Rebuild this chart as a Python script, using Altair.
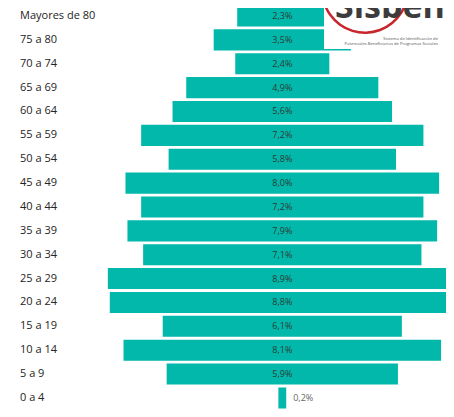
import altair as alt
import pandas as pd

grupos = ["Mayores de 80", "75 a 80", "70 a 74", "65 a 69", "60 a 64", "55 a 59",
          "50 a 54", "45 a 49", "40 a 44", "35 a 39", "30 a 34", "25 a 29",
          "20 a 24", "15 a 19", "10 a 14", "5 a 9", "0 a 4"]
porcentajes = [2.3, 3.5, 2.4, 4.9, 5.6, 7.2, 5.8, 8.0, 7.2, 7.9, 7.1, 8.9,
               8.8, 6.1, 8.1, 5.9, 0.2]

logo_titulo = "Sisben"
logo_linea1 = "Sistema de Identificación de"
logo_linea2 = "Potenciales Beneficiarios de Programas Sociales"

df = pd.DataFrame({"grupo": grupos, "pct": porcentajes})

FONT = "'Segoe UI', 'Open Sans', sans-serif"
W, H = 438, 401

x_scale = alt.Scale(domain=[-6.997, 4.176], nice=False, zero=False)
y_scale = alt.Scale(domain=[-0.335, 16.461], nice=False, zero=False, reverse=True)

base = alt.Chart(df).transform_window(
    row="row_number()"
).transform_calculate(
    i="datum.row - 1",
    lo="-datum.pct / 2",
    hi="datum.pct / 2",
    c="0",
    y0="datum.row - 1 - 0.44",
    y1="datum.row - 1 + 0.44",
    lab="replace(format(datum.pct, '.1f'), '.', ',') + '%'",
)

bars = base.mark_rect(color="#01B8AA", clip=True).encode(
    x=alt.X("lo:Q", scale=x_scale, axis=None),
    x2="hi:Q",
    y=alt.Y("y0:Q", scale=y_scale, axis=None),
    y2="y1:Q",
)

inside = base.transform_filter("datum.pct >= 1").mark_text(
    fontSize=9, color="#2f3a38", font=FONT, baseline="middle", align="center"
).encode(
    x=alt.X("c:Q", scale=x_scale, axis=None),
    y=alt.Y("i:Q", scale=y_scale, axis=None),
    text="lab:N",
)

outside = base.transform_filter("datum.pct < 1").mark_text(
    fontSize=9, color="#666666", font=FONT, baseline="middle", align="left", dx=7
).encode(
    x=alt.X("hi:Q", scale=x_scale, axis=None),
    y=alt.Y("i:Q", scale=y_scale, axis=None),
    text="lab:N",
)

left = base.mark_text(
    fontSize=11, color="#252423", font=FONT, baseline="middle", align="left"
).encode(
    x=alt.value(12),
    y=alt.Y("i:Q", scale=y_scale, axis=None),
    text="grupo:N",
)

logo_df = pd.DataFrame({"t": [logo_titulo]})
logo_bg = alt.Chart(logo_df).mark_rect(color="white").encode(
    x=alt.value(316), x2=alt.value(W), y=alt.value(0), y2=alt.value(41)
)
logo_arc = alt.Chart(logo_df).mark_arc(
    color="#c8252c", innerRadius=41.5, outerRadius=44, theta=1.8, theta2=4.42
).encode(x=alt.value(357), y=alt.value(-18))
logo_text = alt.Chart(logo_df).mark_text(
    fontSize=34, fontWeight="bold", color="#3c3c3c", font=FONT,
    align="left", baseline="alphabetic"
).encode(x=alt.value(327), y=alt.value(10), text="t:N")
logo_l1 = alt.Chart(pd.DataFrame({"t": [logo_linea1]})).mark_text(
    fontSize=4.2, color="#555555", font=FONT, align="right", baseline="middle"
).encode(x=alt.value(430), y=alt.value(30.5), text="t:N")
logo_l2 = alt.Chart(pd.DataFrame({"t": [logo_linea2]})).mark_text(
    fontSize=4.2, color="#555555", font=FONT, align="right", baseline="middle"
).encode(x=alt.value(430), y=alt.value(36), text="t:N")

chart = alt.layer(
    bars, inside, outside, left, logo_bg, logo_arc, logo_text, logo_l1, logo_l2
).properties(
    width=W, height=H, padding=0,
    autosize=alt.AutoSizeParams(type="none"),
).configure_view(stroke=None)

chart.save("out.html", embed_options={"renderer": "svg", "actions": False})
